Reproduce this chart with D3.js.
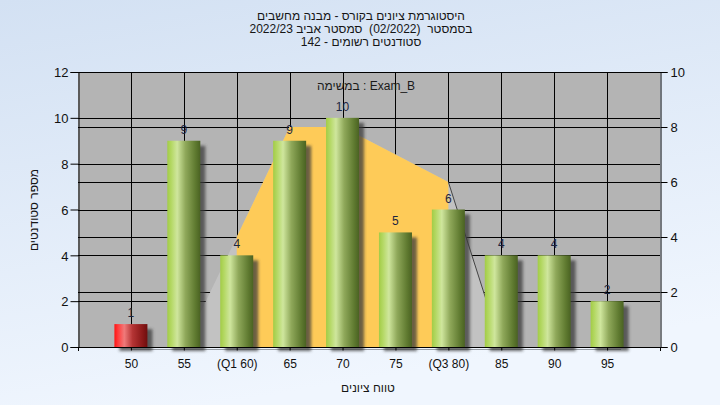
<!DOCTYPE html>
<html><head><meta charset="utf-8">
<script src="https://cdn.jsdelivr.net/npm/d3@7"></script>
<style>
html,body{margin:0;padding:0;}
svg{display:block;font-family:"Liberation Sans",Arial,sans-serif;}
text{white-space:pre;}
</style></head>
<body><svg id="c" width="720" height="405"></svg>
<script>
// ---- data ----
const categories = ["50","55","(Q1 60)","65","70","75","(Q3 80)","85","90","95"];
const counts     = [1, 9, 4, 9, 10, 5, 6, 4, 4, 2];
const curveVals  = [0, 0, 4, 8, 8, 7, 6, 0, 0, 0];   // right-axis area series
const failing    = ["50"];
const leftTicks  = [0,2,4,6,8,10,12];
const rightTicks = [0,2,4,6,8,10];
const titleLines = ["היסטוגרמת ציונים בקורס - מבנה מחשבים",
                    "בסמסטר  (02/2022)  סמסטר אביב 2022/23",
                    "סטודנטים רשומים - 142"];
const subTitle = "במשימה : Exam_B";
const xTitle = "טווח ציונים";
const yTitle = "מספר סטודנטים";
const q1 = "(Q1 60)", q3 = "(Q3 80)";

// ---- layout ----
const W=720,H=405, L=78, R=660, T=72, B=347;
const svg=d3.select("#c");
const defs=svg.append("defs");
const bg=defs.append("linearGradient").attr("id","bg").attr("x1",0).attr("y1",0).attr("x2",0.3).attr("y2",1);
bg.append("stop").attr("offset",0).attr("stop-color","#d3e1f3");
bg.append("stop").attr("offset",1).attr("stop-color","#f0f6fe");
function cyl(id,c){const g=defs.append("linearGradient").attr("id",id).attr("x1",0).attr("x2",1).attr("y1",0).attr("y2",0);
 c.forEach(([o,col])=>g.append("stop").attr("offset",o).attr("stop-color",col));}
cyl("gGreen",[[0,"#a2cc46"],[0.12,"#b4d864"],[0.3,"#cfe69d"],[0.55,"#8fa85a"],[0.85,"#5f7a30"],[1,"#4a6222"]]);
cyl("gRed",[[0,"#ff1414"],[0.12,"#ff4040"],[0.3,"#f07a7a"],[0.55,"#b43434"],[0.85,"#8a1818"],[1,"#6e0e0e"]]);
const f=defs.append("filter").attr("id","sh").attr("x","-20%").attr("y","-20%").attr("width","160%").attr("height","140%");
f.append("feGaussianBlur").attr("stdDeviation",1.6);

svg.append("rect").attr("width",W).attr("height",H).attr("fill","url(#bg)");

const x=d3.scalePoint().domain(categories).range([L,R]).padding(1);
const yL=d3.scaleLinear().domain([0,12]).range([B,T]);
const yR=d3.scaleLinear().domain([0,10]).range([B,T]);
const px=v=>Math.round(v)+0.5;

// plot background
svg.append("rect").attr("x",L).attr("y",T).attr("width",R-L).attr("height",B-T).attr("fill","#b4b4b4");

// gridlines
const grid=svg.append("g").attr("stroke","#000").attr("stroke-width",1);
leftTicks.forEach(t=>grid.append("line").attr("x1",L).attr("x2",R).attr("y1",px(yL(t))).attr("y2",px(yL(t))));
rightTicks.forEach(t=>grid.append("line").attr("x1",L).attr("x2",R).attr("y1",px(yR(t))).attr("y2",px(yR(t))));
categories.forEach(c=>grid.append("line").attr("x1",px(x(c))).attr("x2",px(x(c))).attr("y1",T).attr("y2",B));

// area series (right axis)
const idx=d3.range(categories.length);
const area=d3.area().x(i=>x(categories[i])).y0(yR(0)).y1(i=>yR(curveVals[i]));
svg.append("line").attr("x1",x(categories[0])).attr("x2",x(categories[categories.length-1])+14)
  .attr("y1",B+2.5).attr("y2",B+2.5).attr("stroke","#9aa0a8").attr("stroke-width",1);
svg.append("path").datum(idx).attr("d",area).attr("fill","#c2c2c2");
defs.append("clipPath").attr("id","iqr").append("rect").attr("x",x(q1)).attr("y",T).attr("width",x(q3)-x(q1)).attr("height",B-T);
svg.append("path").datum(idx).attr("d",area).attr("fill","#fecb58").attr("clip-path","url(#iqr)");
const i3=categories.indexOf(q3);
svg.append("path").datum([i3,i3+1]).attr("d",d3.line().x(i=>x(categories[i])).y(i=>yR(curveVals[i])))
  .attr("fill","none").attr("stroke","#444").attr("stroke-width",1);

// bars
const bw=33;
const bars=svg.append("g");
bars.selectAll("rect.s").data(categories).join("rect").attr("class","s")
  .attr("x",c=>x(c)-bw/2+5).attr("y",(c,i)=>yL(counts[i])+5).attr("width",bw).attr("height",(c,i)=>B-yL(counts[i])-1)
  .attr("fill","#3a3a3a").attr("opacity",0.75).attr("filter","url(#sh)");
bars.selectAll("rect.b").data(categories).join("rect").attr("class","b")
  .attr("x",c=>x(c)-bw/2).attr("y",(c,i)=>yL(counts[i])).attr("width",bw).attr("height",(c,i)=>B-yL(counts[i]))
  .attr("fill",c=>failing.includes(c)?"url(#gRed)":"url(#gGreen)");
bars.selectAll("text").data(categories).join("text")
  .attr("x",c=>x(c)).attr("y",(c,i)=>yL(counts[i])-7).attr("text-anchor","middle")
  .attr("font-size",12).attr("fill","#1c2540").text((c,i)=>counts[i]);

// axes
const axL=svg.append("g").attr("transform",`translate(${L+0.5},0)`).call(d3.axisLeft(yL).tickValues(leftTicks).tickSize(8).tickPadding(2));
const axR=svg.append("g").attr("transform",`translate(${R+0.5},0)`).call(d3.axisRight(yR).tickValues(rightTicks).tickSize(7).tickPadding(3));
const axB=svg.append("g").attr("transform",`translate(0,${B+0.5})`).call(d3.axisBottom(x).tickSize(3).tickPadding(9));
[axL,axR,axB].forEach(a=>{a.select(".domain").attr("stroke","#000");a.selectAll(".tick line").attr("stroke","#000");
  a.selectAll("text").attr("fill","#111").attr("font-family","Liberation Sans, Arial, sans-serif");});
axL.selectAll("text").attr("font-size",13).attr("dy","0.36em");
axR.selectAll("text").attr("font-size",13).attr("dy","0.36em");
axB.selectAll("text").attr("font-size",12);
axB.select(".domain").attr("d",`M${L},0.5V0H${R}V0.5`);
// end ticks
svg.append("line").attr("x1",L+0.5).attr("x2",L+0.5).attr("y1",B).attr("y2",B+4).attr("stroke","#000");
svg.append("line").attr("x1",R+0.5).attr("x2",R+0.5).attr("y1",B).attr("y2",B+4).attr("stroke","#000");
svg.append("line").attr("x1",L).attr("x2",R+1).attr("y1",T+0.5).attr("y2",T+0.5).attr("stroke","#000");

// titles
const tt=svg.append("g").attr("font-size",12).attr("fill","#151515").attr("text-anchor","middle");
titleLines.forEach((s,i)=>tt.append("text").attr("x",361).attr("y",20+i*13).text(s));
svg.append("text").attr("x",366).attr("y",90).attr("text-anchor","middle").attr("font-size",12).attr("fill","#1a1a1a").text(subTitle);
svg.append("text").attr("x",368).attr("y",392).attr("text-anchor","middle").attr("font-size",12).attr("fill","#151515").text(xTitle);
svg.append("text").attr("transform",`translate(38,210) rotate(-90)`).attr("text-anchor","middle").attr("font-size",12).attr("fill","#151515").text(yTitle);
</script></body></html>
